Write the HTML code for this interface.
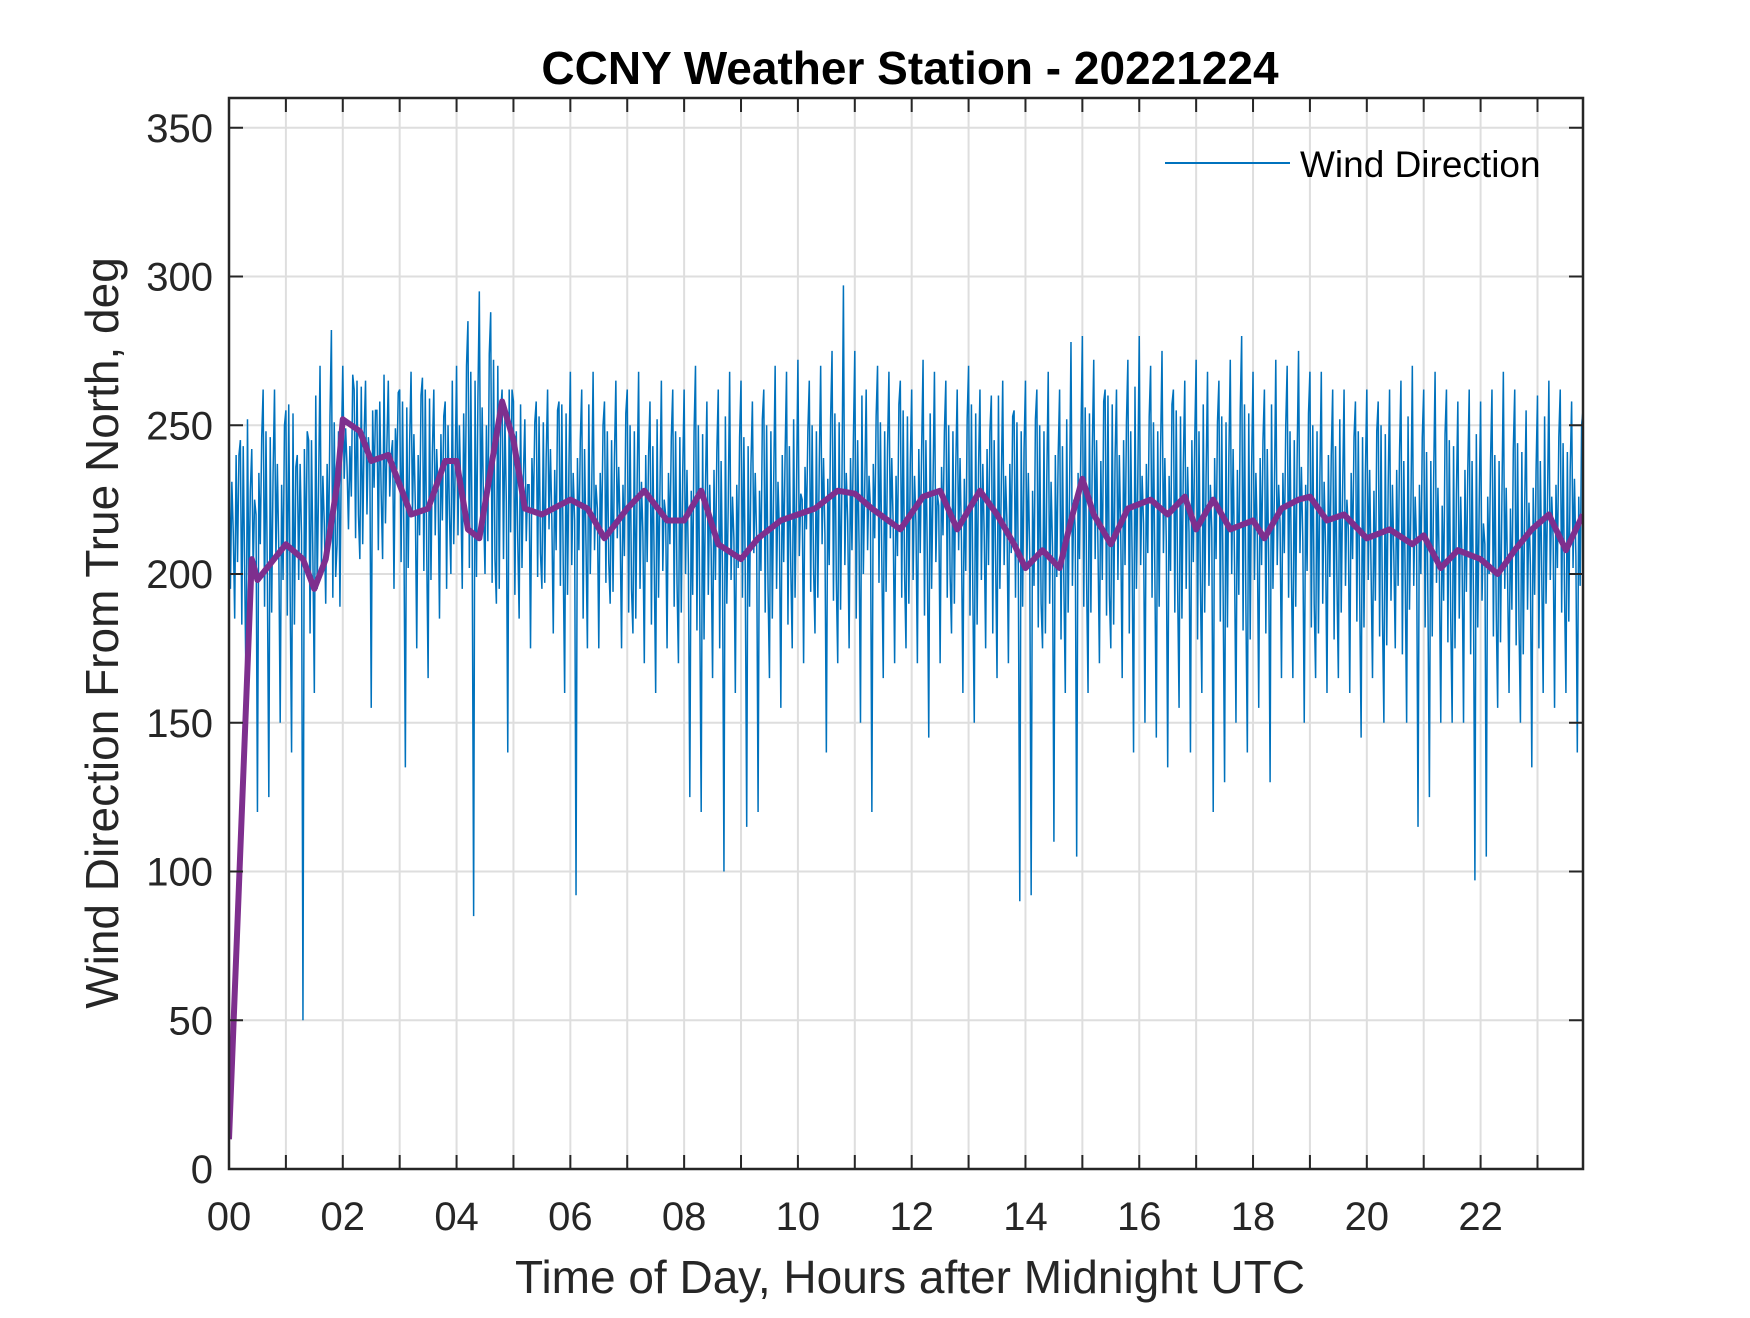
<!DOCTYPE html>
<html><head><meta charset="utf-8"><style>
body{margin:0;background:#fff;}
svg text{font-family:"Liberation Sans",Arial,sans-serif;fill:#262626;}
</style></head><body>
<svg id="chart" width="1750" height="1313" xmlns="http://www.w3.org/2000/svg">
<defs><clipPath id="plotclip"><rect x="229" y="98" width="1354" height="1071"/></clipPath></defs>
<rect width="1750" height="1313" fill="#fff"/>
<g id="grid"></g>
<g id="series" clip-path="url(#plotclip)"></g>
<g id="axes"></g>
<text x="910" y="84" font-size="46" font-weight="bold" text-anchor="middle" style="fill:#000">CCNY Weather Station - 20221224</text>
<text x="910" y="1293" font-size="46" text-anchor="middle">Time of Day, Hours after Midnight UTC</text>
<text transform="translate(118,633) rotate(-90)" font-size="46" text-anchor="middle">Wind Direction From True North, deg</text>
<g>
<line x1="1165" y1="163" x2="1290" y2="163" stroke="#0072BD" stroke-width="2"/>
<text x="1300" y="177" font-size="37" style="fill:#000">Wind Direction</text>
</g>
</svg>
<script>
const xTicks=[0,2,4,6,8,10,12,14,16,18,20,22];
const xTickLabels=["00","02","04","06","08","10","12","14","16","18","20","22"];
const yTicks=[0,50,100,150,200,250,300,350];
const windHi=[255,245,242,262,262,255,240,245,270,282,
270,262,265,255,265,262,268,266,262,258,
270,285,295,288,262,258,252,258,262,258,
268,262,268,258,265,262,268,258,265,262,
262,270,258,262,268,265,258,262,270,268,
272,265,270,275,297,275,262,270,268,265,
262,272,268,265,262,270,262,260,265,255,
265,262,268,262,278,280,272,262,262,272,
280,270,275,262,265,272,268,265,272,280,
268,262,272,270,275,268,268,262,262,258,
262,258,262,265,270,262,268,262,258,262,
258,262,268,262,255,260,265,262,258,255];
const windLo=[185,160,120,125,150,140,50,160,190,210,
215,205,155,205,195,135,175,165,185,200,
195,85,200,190,140,185,175,195,180,160,
92,175,175,190,175,180,170,160,175,170,
125,120,165,100,160,115,120,165,155,175,
170,180,140,170,175,150,120,165,170,175,
170,145,170,180,160,150,175,165,170,90,
92,175,110,160,105,160,170,175,165,140,
150,145,135,155,140,160,120,130,150,140,
155,130,165,165,150,165,160,165,160,145,
165,150,175,150,115,125,150,150,150,97,
105,155,160,150,135,160,155,160,140,175];
const bodyHi=[240,245,255,250,262,245,242,240,238,240,242,245,242,245,240,248,245,245,242,240,238,235,232,238];
const bodyLo=[195,195,220,210,205,205,200,195,190,195,200,200,198,195,190,195,195,190,195,190,188,185,185,190];
const jitter=[0,-12,6,-6,10,-9,3,-15,8,-3,12,-8];
const avgT=[0,0.4,0.5,1.0,1.3,1.5,1.7,1.9,2.0,2.3,2.5,2.8,3.0,3.2,3.5,3.8,4.0,4.2,4.4,4.6,4.8,5.0,5.2,5.5,6.0,6.3,6.6,7.0,7.3,7.7,8.0,8.3,8.6,9.0,9.3,9.7,10.0,10.3,10.7,11.0,11.3,11.8,12.2,12.5,12.8,13.2,13.5,13.8,14.0,14.3,14.6,14.8,15.0,15.2,15.5,15.8,16.2,16.5,16.8,17.0,17.3,17.6,18.0,18.2,18.5,18.8,19.0,19.3,19.6,20.0,20.4,20.8,21.0,21.3,21.6,22.0,22.3,22.6,22.9,23.2,23.5,23.8];
const avgV=[10,205,198,210,205,195,205,230,252,248,238,240,230,220,222,238,238,215,212,235,258,245,222,220,225,222,212,222,228,218,218,228,210,205,212,218,220,222,228,227,222,215,226,228,215,228,220,210,202,208,202,218,232,220,210,222,225,220,226,215,225,215,218,212,222,225,226,218,220,212,215,210,213,202,208,205,200,208,215,220,208,220];
const X0=229,X1=1583,Y0=1169,Y1=98,XMAX=23.8,YMAX=360;
const sx=t=>X0+t/XMAX*(X1-X0);
const sy=v=>Y0-v/YMAX*(Y0-Y1);
const NS="http://www.w3.org/2000/svg";
function mk(tag,attrs,parent){const e=document.createElementNS(NS,tag);for(const k in attrs)e.setAttribute(k,attrs[k]);parent.appendChild(e);return e;}
const grid=document.getElementById('grid'),axes=document.getElementById('axes'),series=document.getElementById('series');
for(let h=1;h<24;h++){const g=mk('line',{x1:sx(h),x2:sx(h),y1:Y1,y2:Y0,stroke:'#dedede','stroke-width':2},grid);


const t1=mk('line',{x1:sx(h),x2:sx(h),y1:Y0,y2:Y0-14,stroke:'#262626','stroke-width':2},axes);


const t2=mk('line',{x1:sx(h),x2:sx(h),y1:Y1,y2:Y1+14,stroke:'#262626','stroke-width':2},axes);

}
yTicks.forEach(v=>{const y=sy(v);
if(v>0){const g=mk('line',{x1:X0,x2:X1,y1:y,y2:y,stroke:'#dedede','stroke-width':2},grid);

}
const a=mk('line',{x1:X0,x2:X0+14,y1:y,y2:y,stroke:'#262626','stroke-width':2},axes);


const b=mk('line',{x1:X1,x2:X1-14,y1:y,y2:y,stroke:'#262626','stroke-width':2},axes);


const t=mk('text',{x:X0-16,y:y+14,'font-size':40,'text-anchor':'end'},axes);t.textContent=v;

});
xTicks.forEach((h,i)=>{const t=mk('text',{x:sx(h),y:1230,'font-size':40,'text-anchor':'middle'},axes);t.textContent=xTickLabels[i];

});
let pts=[];for(let i=0;i<windHi.length;i++){const t=i*0.2,hr=Math.floor(t),d=0.025,j=jitter[i%12],k=jitter[(i+5)%12];
pts.push(sx(t)+','+sy(windHi[i]));
pts.push(sx(t+d)+','+sy(bodyLo[hr]+j));
pts.push(sx(t+2*d)+','+sy(bodyHi[hr]+k));
pts.push(sx(t+3*d)+','+sy(bodyLo[hr]+10-k));
pts.push(sx(t+4*d)+','+sy(windLo[i]));
pts.push(sx(t+5*d)+','+sy(bodyHi[hr]-j));
pts.push(sx(t+6*d)+','+sy(bodyLo[hr]-k));
pts.push(sx(t+7*d)+','+sy(bodyHi[hr]+j));}
const wl=mk('polyline',{points:pts.join(' '),fill:'none',stroke:'#0072BD','stroke-width':1.5},series);


const ap=avgT.map((t,i)=>sx(t)+','+sy(avgV[i])).join(' ');
const al=mk('polyline',{points:ap,fill:'none',stroke:'#7E2F8E','stroke-width':6,'stroke-linejoin':'round'},series);


const box=mk('rect',{x:X0,y:Y1,width:X1-X0,height:Y0-Y1,fill:'none',stroke:'#262626','stroke-width':2.5},axes);


</script>
</body></html>
